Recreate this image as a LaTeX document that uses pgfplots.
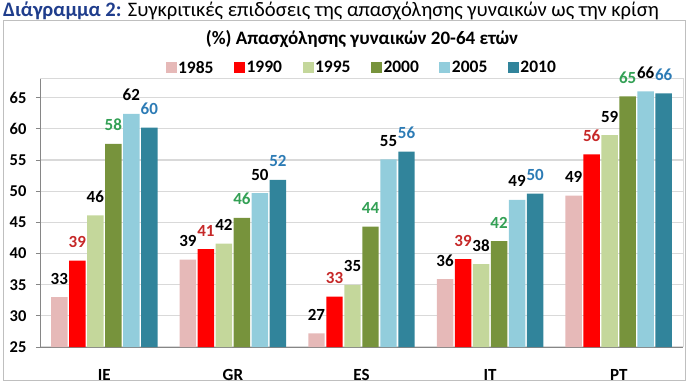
\documentclass[border=0pt]{standalone}
\usepackage{fontspec}
\setmainfont{Carlito}
\usepackage{pgfplots}
\pgfplotsset{compat=1.18}
\definecolor{c85}{HTML}{E6B9B8}
\definecolor{c90}{HTML}{FF0000}
\definecolor{c95}{HTML}{C4D79B}
\definecolor{c00}{HTML}{77933C}
\definecolor{c05}{HTML}{92CDDC}
\definecolor{c10}{HTML}{31849B}
\definecolor{lred}{HTML}{C62828}
\definecolor{lgreen}{HTML}{33A055}
\definecolor{lblue}{HTML}{2C7BB5}
\definecolor{hdrblue}{HTML}{1F3D8C}
\definecolor{framegray}{HTML}{BFBFBF}
\definecolor{axgray}{HTML}{868686}
\definecolor{gridgray}{HTML}{D9D9D9}
\begin{document}
\begin{tikzpicture}[x=1pt,y=1pt]
\useasboundingbox (0,0) rectangle (687,385);
\draw[color=framegray, line width=1pt] (3,5) rectangle (685,364);
\node[anchor=base west, inner sep=0, font=\fontsize{20.6}{24}\selectfont] at (3,368) {\textcolor{hdrblue}{\textbf{Διάγραμμα 2:}} Συγκριτικές επιδόσεις της απασχόλησης γυναικών ως την κρίση};
\node[anchor=base, inner sep=0, font=\fontsize{19}{22}\selectfont\bfseries] at (362,340) {(\%) Απασχόλησης γυναικών 20-64 ετών};
\begin{axis}[
  at={(40pt,38pt)}, anchor=south west,
  width=643pt, height=268pt, scale only axis,
  ybar, bar width=0.128,
  xmin=-0.5, xmax=4.5, ymin=25, ymax=68,
  axis x line*=bottom, axis y line*=left,
  axis line style={-, draw=axgray, line width=1pt},
  xtick={0,1,2,3,4},
  xticklabels={IE,GR,ES,IT,PT},
  xtick style={draw=none},
  xticklabel style={anchor=base, yshift=-29pt, font=\fontsize{17}{20}\selectfont\bfseries},
  extra x ticks={-0.5,0.5,1.5,2.5,3.5,4.5},
  extra x tick labels={},
  extra x tick style={major tick length=6pt, tick align=outside, tick style={draw=axgray, line width=1pt}},
  ytick={25,30,...,65},
  tick align=outside, major tick length=4pt,
  ytick style={draw=axgray, line width=1pt},
  yticklabel style={font=\fontsize{16.5}{19}\selectfont\bfseries, xshift=-6pt},
  /pgf/number format/assume math mode=true,
  ymajorgrids, grid style={draw=gridgray, line width=1.2pt},
  clip=false,
  nodes near coords={\pgfmathprintnumber[fixed,precision=0]{\pgfplotspointmeta}},
  every node near coord/.append style={font=\fontsize{17}{20}\selectfont\bfseries, anchor=base, yshift=13pt, inner sep=0pt},
  every axis plot/.append style={draw=none},
  legend image code/.code={\fill[#1,draw=none] (0pt,-5pt) rectangle (11pt,6pt);},
  legend columns=6,
  legend style={at={(0.5,1.041)}, anchor=center, draw=none, fill=none,
    font=\fontsize{17.5}{20}\selectfont\bfseries,
    /tikz/every even column/.append style={column sep=19pt},
    nodes={inner sep=1.5pt}},
]
\addplot[fill=c85, bar shift=-0.35] coordinates {(0,33.0) (1,39.0) (2,27.2) (3,35.9) (4,49.3)};
\addplot[fill=c90, bar shift=-0.21, every node near coord/.append style={text=lred}] coordinates {(0,38.85) (1,40.7) (2,33.1) (3,39.1) (4,55.9)};
\addplot[fill=c95, bar shift=-0.07] coordinates {(0,46.1) (1,41.6) (2,34.95) (3,38.3) (4,59.0)};
\addplot[fill=c00, bar shift=0.07, every node near coord/.append style={text=lgreen}] coordinates {(0,57.6) (1,45.7) (2,44.3) (3,42.0) (4,65.2)};
\addplot[fill=c05, bar shift=0.21] coordinates {(0,62.4) (1,49.7) (2,55.1) (3,48.6) (4,66.0)};
\addplot[fill=c10, bar shift=0.35, every node near coord/.append style={text=lblue}] coordinates {(0,60.2) (1,51.8) (2,56.35) (3,49.6) (4,65.7)};
\legend{1985,1990,1995,2000,2005,2010}
\draw[gridgray, line width=1pt] (rel axis cs:0,1) -- (rel axis cs:1,1) -- (rel axis cs:1,0);
\end{axis}
\end{tikzpicture}
\end{document}
